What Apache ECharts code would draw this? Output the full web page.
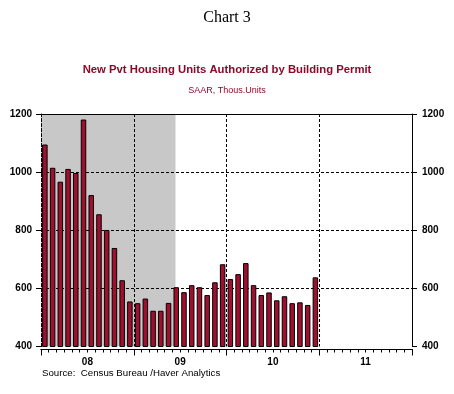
<!DOCTYPE html>
<html>
<head>
<meta charset="utf-8">
<script src="https://cdn.jsdelivr.net/npm/echarts@6/dist/echarts.min.js"></script>
<style>html,body{margin:0;padding:0;background:#fff;}#c{width:454px;height:394px;}</style>
</head>
<body>
<div id="c"></div>
<script>
var years = ['2008', '2009', '2010', '2011'];
var yearLabels = ['08', '09', '10', '11'];
var monthCodes = ['01','02','03','04','05','06','07','08','09','10','11','12'];
var permits = [1095, 1015, 967, 1011, 997, 1181, 921, 855, 801, 739, 628, 555,
               549, 565, 523, 523, 550, 604, 587, 611, 604, 577, 621, 683,
               632, 649, 687, 611, 577, 586, 559, 573, 549, 552, 543, 638];
var recessionStart = 0;     // months from Jan 2008
var recessionEnd = 17.4;    // mid-June 2009
var yTicks = [400, 600, 800, 1000, 1200];

var categories = [];
years.forEach(function (y) { monthCodes.forEach(function (m) { categories.push(y + '-' + m); }); });

var dash = [3, 2];
var chart = echarts.init(document.getElementById('c'), null, {renderer: 'canvas'});
chart.setOption({
  animation: false,
  backgroundColor: '#fff',
  title: [
    {text: 'Chart 3', left: 'center', top: 10, padding: 0,
     textStyle: {fontFamily: 'Liberation Serif', fontSize: 16, fontWeight: 'normal', color: '#000'}},
    {text: 'New Pvt Housing Units Authorized by Building Permit', left: 'center', top: 64, padding: 0,
     textStyle: {fontFamily: 'Liberation Sans', fontSize: 11.3, fontWeight: 'bold', color: '#8B0A2A'}},
    {text: 'SAAR, Thous.Units', left: 'center', top: 86, padding: 0,
     textStyle: {fontFamily: 'Liberation Sans', fontSize: 9, fontWeight: 'normal', color: '#8B0A2A'}},
    {text: 'Source:  Census Bureau /Haver Analytics', left: 42, top: 368, padding: 0,
     textStyle: {fontFamily: 'Liberation Sans', fontSize: 9.7, fontWeight: 'normal', color: '#000'}}
  ],
  grid: {left: 41, right: 42, top: 114, bottom: 47.5, containLabel: false},
  xAxis: [
    {type: 'category', data: categories, position: 'bottom', offset: 3, boundaryGap: true,
     axisLine: {show: true, lineStyle: {color: '#000', width: 1}},
     axisTick: {show: true, interval: 0, length: 3, lineStyle: {color: '#000'}},
     axisLabel: {show: false},
     splitLine: {show: true, interval: function (i) { return i % 12 === 0; },
                 lineStyle: {color: '#000', type: dash, width: 1}}},
    {type: 'category', data: yearLabels, position: 'bottom', offset: 3, boundaryGap: true,
     axisLine: {show: true, lineStyle: {color: '#000', width: 1}},
     axisTick: {show: true, length: 6, lineStyle: {color: '#000'}},
     axisLabel: {show: true, margin: 8, fontFamily: 'Liberation Sans', fontSize: 10, fontWeight: 'bold', color: '#000'},
     splitLine: {show: false}},
    {type: 'value', min: 0, max: 48, position: 'top',
     axisLine: {show: true, onZero: false, lineStyle: {color: '#000', width: 1}},
     axisTick: {show: false}, axisLabel: {show: false}, splitLine: {show: false}}
  ],
  yAxis: [
    {type: 'value', min: 400, max: 1200, interval: 200, position: 'left',
     axisLine: {show: true, lineStyle: {color: '#000', type: dash}},
     axisTick: {show: true, length: 5, lineStyle: {color: '#000'}},
     axisLabel: {margin: 9, formatter: function (v) { return String(v); },
                 fontFamily: 'Liberation Sans', fontSize: 10, fontWeight: 'bold', color: '#000'},
     splitLine: {show: true, lineStyle: {color: ['rgba(0,0,0,0)', '#000', '#000', '#000', 'rgba(0,0,0,0)'], type: dash}}},
    {type: 'value', min: 400, max: 1200, interval: 200, position: 'right',
     axisLine: {show: true, lineStyle: {color: '#000'}},
     axisTick: {show: true, length: 5, lineStyle: {color: '#000'}},
     axisLabel: {margin: 10, formatter: function (v) { return String(v); },
                 fontFamily: 'Liberation Sans', fontSize: 10, fontWeight: 'bold', color: '#000'},
     splitLine: {show: false}}
  ],
  series: [
    {type: 'line', xAxisIndex: 2, yAxisIndex: 0, z: -1, silent: true,
     data: [[recessionStart, yTicks[yTicks.length - 1]], [recessionEnd, yTicks[yTicks.length - 1]]],
     symbol: 'none', lineStyle: {width: 0},
     areaStyle: {origin: 'start', color: '#C8C8C8', opacity: 1}},
    {type: 'bar', xAxisIndex: 0, yAxisIndex: 0, data: permits, barWidth: 5.5,
     itemStyle: {color: '#A0102E', borderColor: '#000', borderWidth: 1}}
  ]
});
</script>
</body>
</html>
